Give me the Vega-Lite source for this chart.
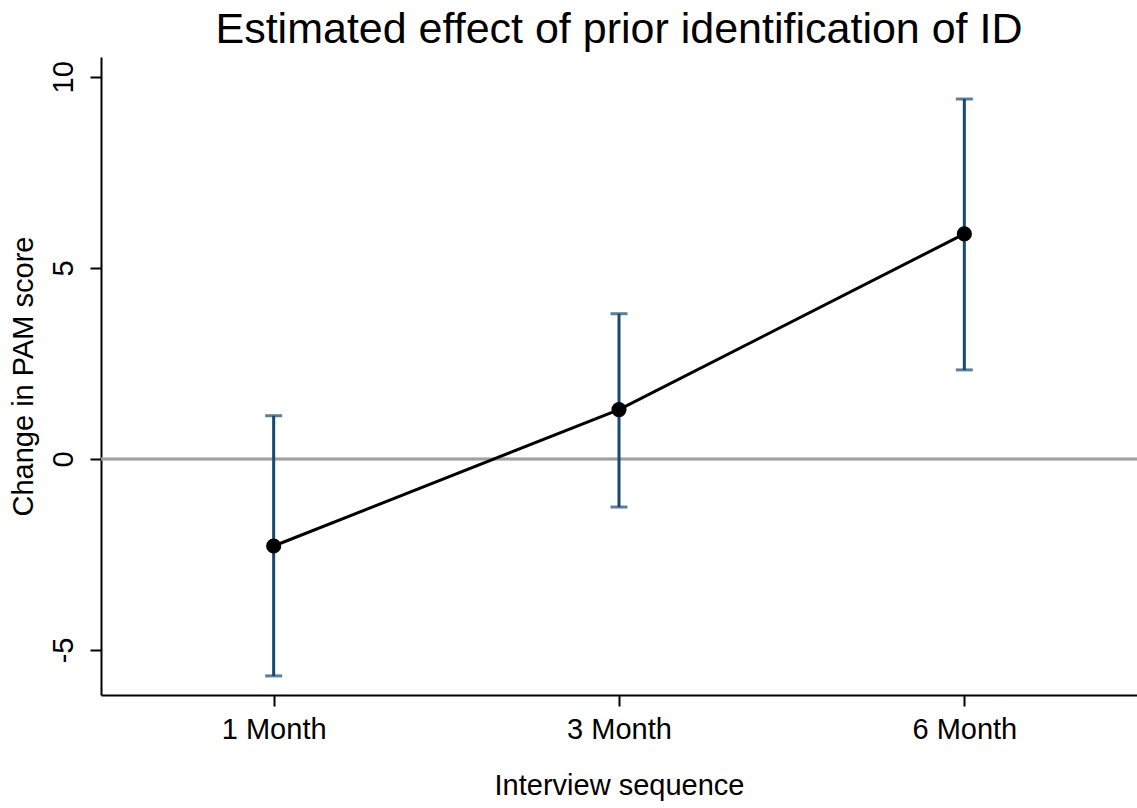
{
  "$schema": "https://vega.github.io/schema/vega-lite/v6.json",
  "autosize": "none",
  "width": 1036,
  "height": 638,
  "padding": {"left": 101, "top": 57, "right": 0, "bottom": 113},
  "background": "white",
  "config": {
    "font": "Liberation Sans",
    "view": {"stroke": null},
    "axis": {"grid": false, "domainColor": "black", "tickColor": "black", "domainWidth": 2, "tickWidth": 2, "tickSize": 11, "labelColor": "black", "titleColor": "black", "labelFont": "Liberation Sans", "titleFont": "Liberation Sans", "labelFontSize": 29, "titleFontSize": 29, "titleFontWeight": "normal"}
  },
  "title": {"text": "Estimated effect of prior identification of ID", "fontSize": 43, "font": "Liberation Sans", "fontWeight": "normal", "color": "black", "anchor": "middle", "offset": 5},
  "data": {"values": [
    {"interview": "1 Month", "est": -2.28, "lo": -5.68, "hi": 1.13},
    {"interview": "3 Month", "est": 1.29, "lo": -1.26, "hi": 3.80},
    {"interview": "6 Month", "est": 5.89, "lo": 2.33, "hi": 9.42}
  ]},
  "encoding": {
    "x": {"field": "interview", "type": "nominal", "sort": null, "scale": {"type": "point", "padding": 0.5},
      "axis": {"title": "Interview sequence", "labelAngle": 0, "labelPadding": 9, "titlePadding": 27, "domain": true}},
    "y": {"type": "quantitative"}
  },
  "layer": [
    {"mark": {"type": "rule", "color": "#a0a0a0", "strokeWidth": 2.5}, "encoding": {"y": {"datum": 0, "type": "quantitative"}, "x": null}},
    {"mark": {"type": "rule", "color": "#1a476f", "strokeWidth": 3},
     "encoding": {"y": {"field": "lo", "type": "quantitative", "scale": {"domain": [-6.18, 10.52], "nice": false, "zero": false},
        "axis": {"title": "Change in PAM score", "values": [-5, 0, 5, 10], "labelExpr": "replace(datum.label, '−', '-')", "labelAngle": -90, "labelPadding": 12, "titlePadding": 11}},
       "y2": {"field": "hi"}}},
    {"mark": {"type": "tick", "color": "#1a476f", "orient": "horizontal", "size": 17, "thickness": 3}, "encoding": {"y": {"field": "lo", "type": "quantitative"}}},
    {"mark": {"type": "tick", "color": "#1a476f", "orient": "horizontal", "size": 17, "thickness": 3}, "encoding": {"y": {"field": "hi", "type": "quantitative"}}},
    {"mark": {"type": "line", "color": "black", "strokeWidth": 3}, "encoding": {"y": {"field": "est", "type": "quantitative"}}},
    {"mark": {"type": "point", "filled": true, "color": "black", "opacity": 1, "size": 230}, "encoding": {"y": {"field": "est", "type": "quantitative"}}}
  ]
}
